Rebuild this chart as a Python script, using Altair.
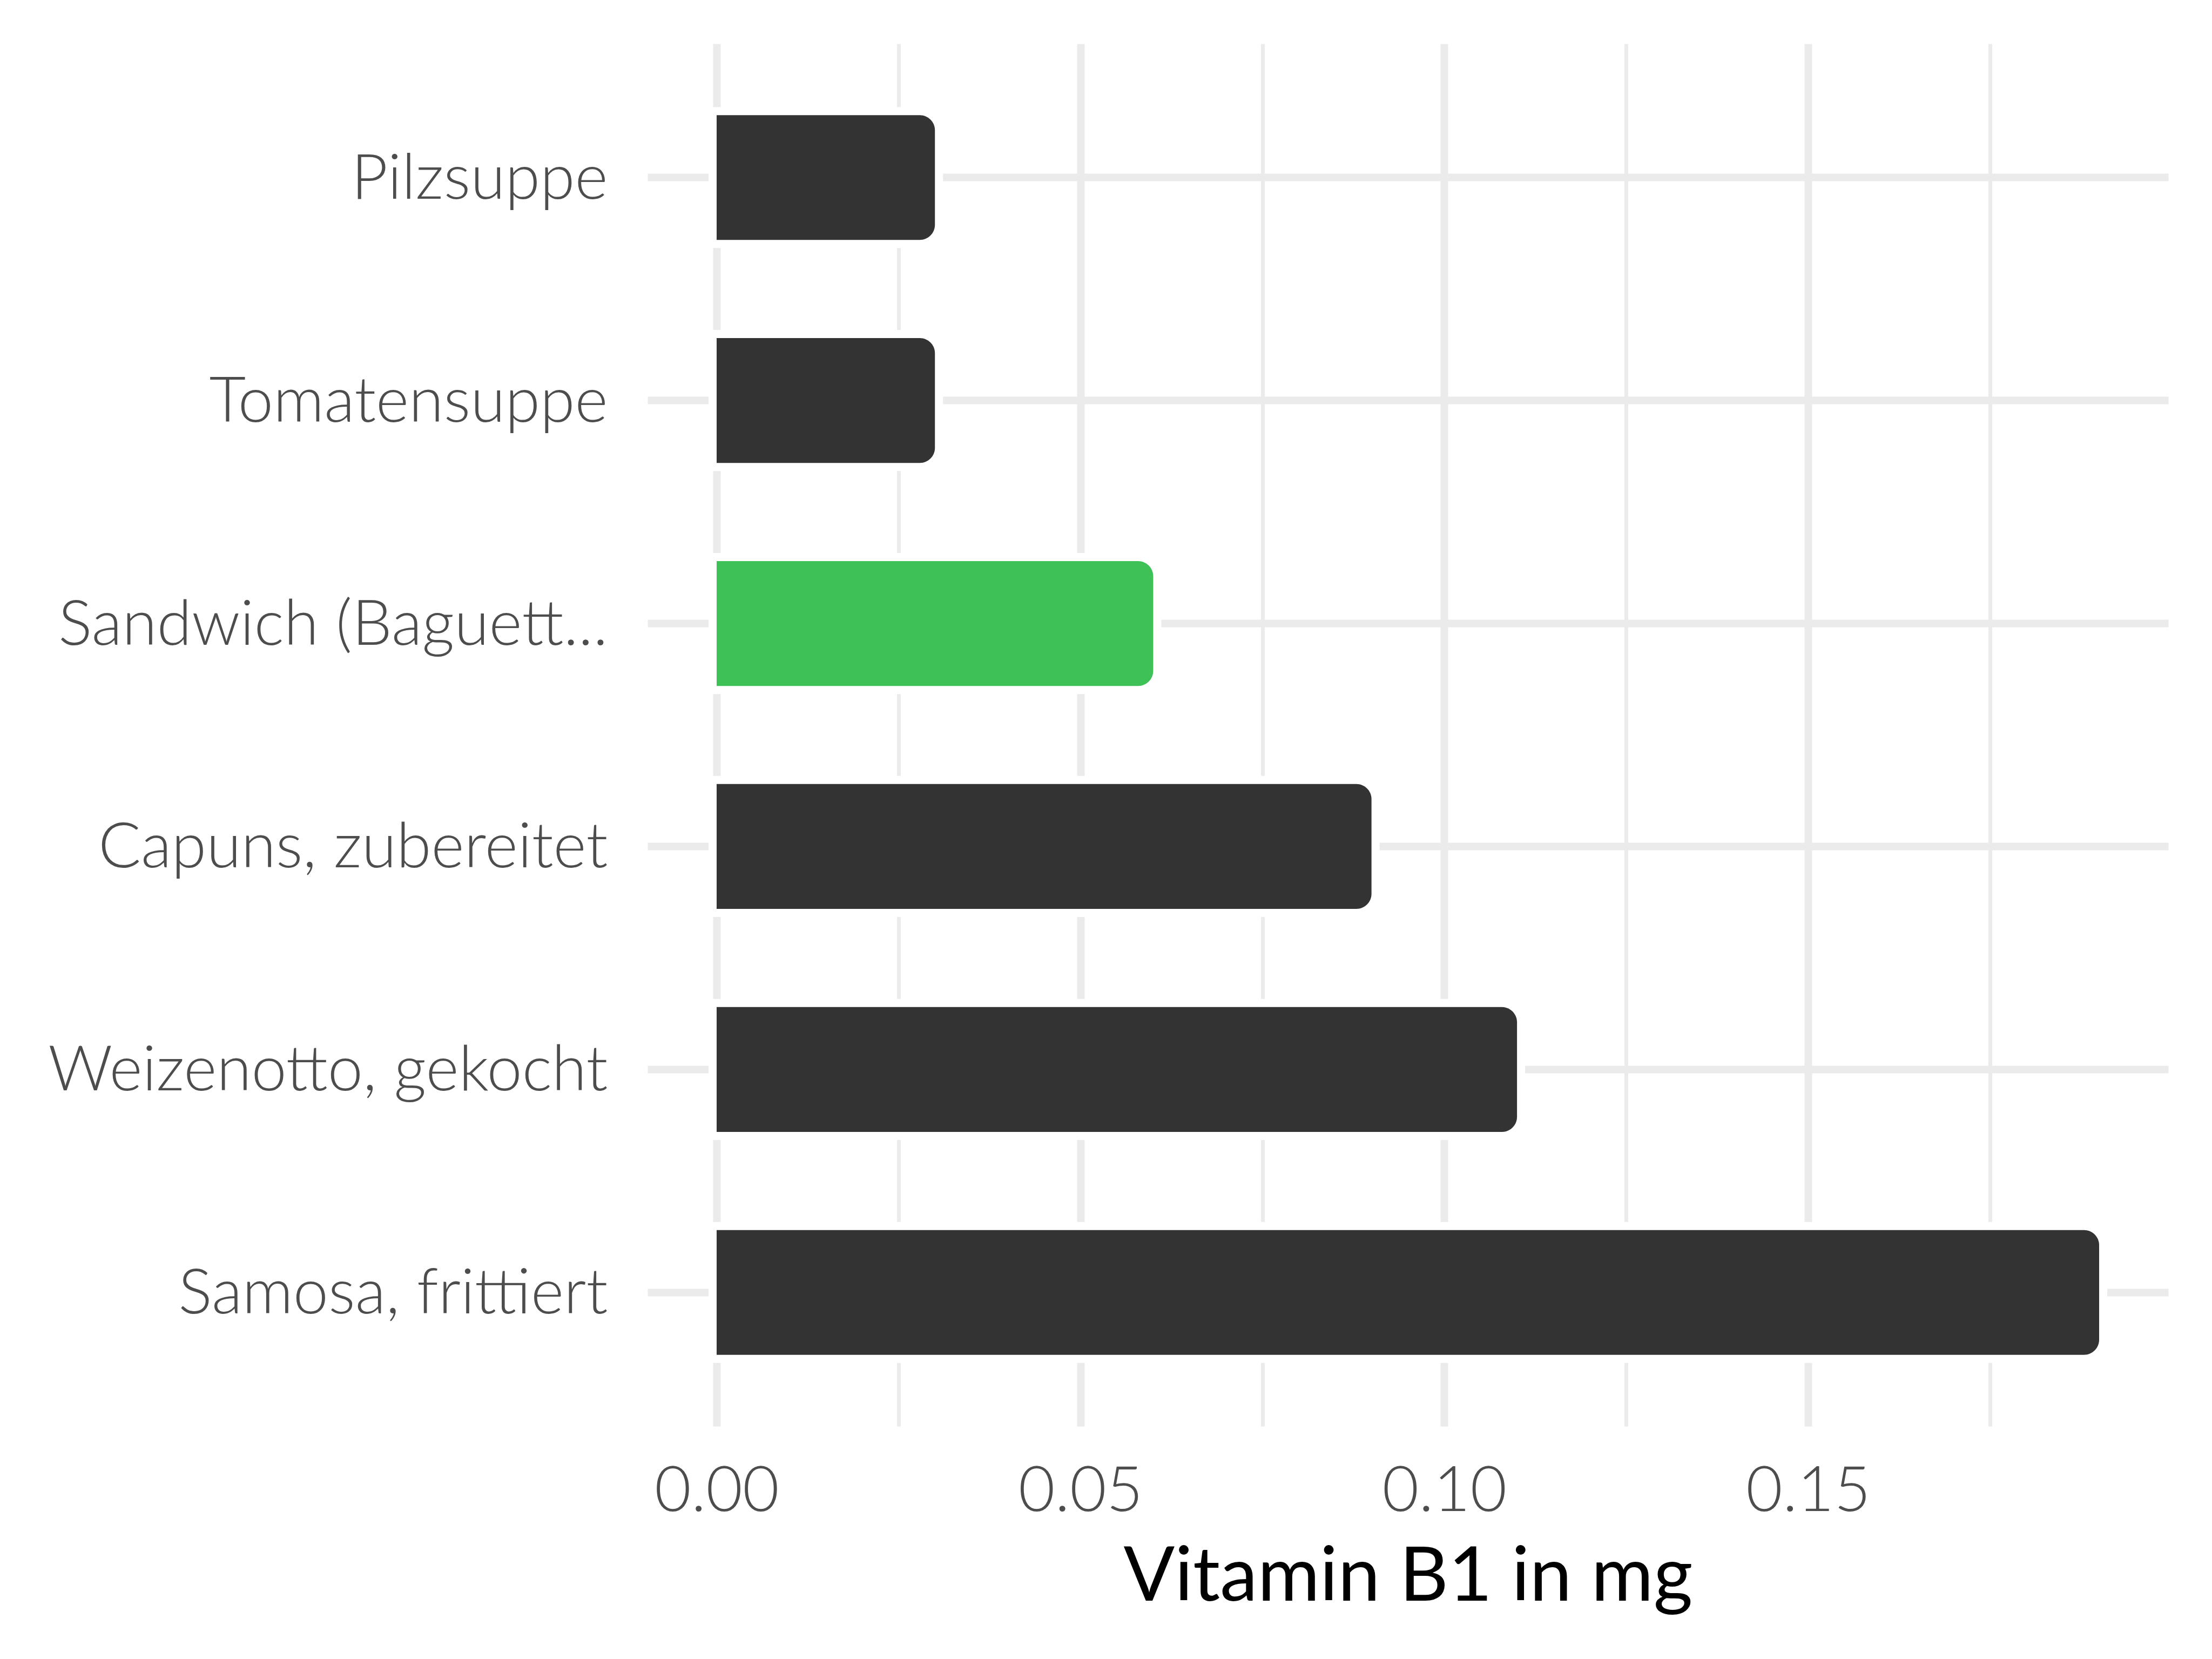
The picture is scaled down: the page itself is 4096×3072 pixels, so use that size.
import altair as alt
import pandas as pd

foods = [
    "Pilzsuppe",
    "Tomatensuppe",
    "Sandwich (Baguett...",
    "Capuns, zubereitet",
    "Weizenotto, gekocht",
    "Samosa, frittiert",
]
values = [0.03, 0.03, 0.06, 0.09, 0.11, 0.19]
highlight = ["no", "no", "yes", "no", "no", "no"]

major_ticks = [0.0, 0.05, 0.10, 0.15]
minor_ticks = [0.025, 0.075, 0.125, 0.175]

df = pd.DataFrame({"food": foods, "value": values, "hl": highlight})

GRID = "#EBEBEB"
FONT = "Lato"

x_scale = alt.Scale(domain=[-0.0095, 0.1995], nice=False, zero=False)
y_enc = alt.Y(
    "food:N",
    sort=foods,
    scale=alt.Scale(paddingInner=0.44, paddingOuter=0.32),
    axis=alt.Axis(
        title=None,
        grid=True,
        gridColor=GRID,
        gridWidth=14,
        bandPosition=0.5,
        domain=False,
        ticks=False,
        labelFont=FONT,
        labelFontWeight=300,
        labelFontSize=117,
        labelColor="#4D4D4D",
        labelPadding=74,
        labelOffset=4,
        labelBaseline="middle",
        labelLimit=2000,
    ),
)

base = alt.Chart(df)

halo = base.mark_bar(
    color="white", stroke="white", strokeWidth=30,
    cornerRadiusTopRight=28, cornerRadiusBottomRight=28,
).encode(
    x=alt.X(
        "value:Q",
        scale=x_scale,
        axis=alt.Axis(
            orient="top",
            values=minor_ticks,
            grid=True,
            gridColor=GRID,
            gridWidth=7,
            labels=False,
            ticks=False,
            domain=False,
            title=None,
        ),
    ),
    x2=alt.datum(0),
    y=y_enc,
)

bars = base.mark_bar(cornerRadiusTopRight=28, cornerRadiusBottomRight=28).encode(
    x=alt.X(
        "value:Q",
        scale=x_scale,
        axis=alt.Axis(
            values=major_ticks,
            format=".2f",
            grid=True,
            gridColor=GRID,
            gridWidth=14,
            domain=False,
            ticks=False,
            labelFont=FONT,
            labelFontWeight=300,
            labelFontSize=117,
            labelColor="#4D4D4D",
            labelBaseline="top",
            labelPadding=64,
            labelFlush=False,
            labelLimit=2000,
            labelOverlap=False,
            title="Vitamin B1 in mg",
            titleFont=FONT,
            titleFontWeight="normal",
            titleFontSize=140,
            titleColor="black",
            titleBaseline="alphabetic",
            titleX=1408,
            titleY=322,
            titleAnchor="middle",
        ),
    ),
    x2=alt.datum(0),
    y=y_enc,
    color=alt.Color(
        "hl:N",
        scale=alt.Scale(domain=["no", "yes"], range=["#333333", "#3EC258"]),
        legend=None,
    ),
)

chart = (
    alt.layer(halo, bars)
    .resolve_axis(x="independent")
    .properties(
        width=2816,
        height=2560,
        autosize=alt.AutoSizeParams(type="none"),
        padding={"left": 1191, "top": 73, "right": 60, "bottom": 420},
    )
    .configure_view(stroke=None)
)

chart.save("out.html", embed_options={"renderer": "svg", "actions": False})
